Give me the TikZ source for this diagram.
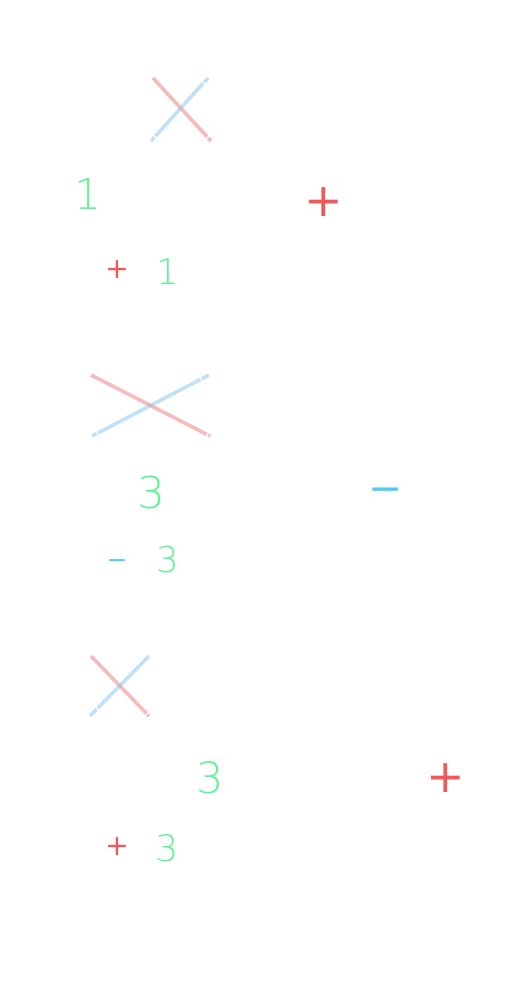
\documentclass[tikz,border=0pt]{standalone}
\usepackage{fontspec}
\newfontfamily\digitfont{DejaVu Sans ExtraLight}
\newfontfamily\signfont{DejaVu Sans}
\definecolor{digitgreen}{RGB}{96,242,150}
\definecolor{plusred}{RGB}{242,88,88}
\definecolor{minusblue}{RGB}{80,204,244}
\definecolor{strokepink}{RGB}{238,120,120}
\definecolor{strokeblue}{RGB}{130,196,238}

\begin{document}
\begin{tikzpicture}[x=1pt,y=-1pt,
  digit/.style={inner sep=0pt,text=digitgreen,font=\digitfont\fontsize{#1}{#1}\selectfont},
  plussign/.style={inner sep=0pt,text=plusred,font=\signfont\fontsize{#1}{#1}\selectfont},
  minussign/.style={inner sep=0pt,anchor=base,text=minusblue,font=\signfont\fontsize{#1}{#1}\selectfont},
  pinkstroke/.style={draw=strokepink,opacity=0.5,line width=3.6pt},
  bluestroke/.style={draw=strokeblue,opacity=0.5,line width=3.6pt}]
\useasboundingbox (0,0) rectangle (532,989);

% stroke ends
\coordinate (p1a) at (153,78);
\coordinate (p1b) at (211,141);
\coordinate (b1a) at (208,78);
\coordinate (b1b) at (151,141);
\coordinate (p2a) at (91,375);
\coordinate (p2b) at (210,436);
\coordinate (b2a) at (209,375);
\coordinate (b2b) at (92,436);
\coordinate (p3a) at (91,656);
\coordinate (p3b) at (149,716);
\coordinate (b3a) at (149,656);
\coordinate (b3b) at (90,716);

% crossed strokes
\draw[pinkstroke,dash pattern=on 80pt off 1.5pt on 10pt] (p1a)--(p1b);
\draw[bluestroke,dash pattern=on 6pt off 1.5pt on 71pt off 1.5pt on 10pt] (b1a)--(b1b);
\draw[pinkstroke,dash pattern=on 130pt off 1.5pt on 10pt] (p2a)--(p2b);
\draw[bluestroke,dash pattern=on 8pt off 1.5pt on 116pt off 1.5pt on 10pt] (b2a)--(b2b);
\draw[pinkstroke,dash pattern=on 80pt off 1.5pt on 10pt] (p3a)--(p3b);
\draw[bluestroke,dash pattern=on 73pt off 1.5pt on 15pt] (b3a)--(b3b);

% first row
\node[digit=42.5pt] (one1) at (88,194.5) {1};
\node[plussign=46pt] (plus1) at (323.5,202.5) {+};
\node[plussign=28.5pt] (plus1s) at (117,269.5) {+};
\node[digit=35.5pt] (one1s) at (167.5,272) {1};

% second row
\node[digit=44pt] (three2) at (151.5,492) {3};
\node[minussign=41pt] (minus2) at (386,502.8) {−};
\node[minussign=25pt] (minus2s) at (117,568.8) {−};
\node[digit=35.5pt] (three2s) at (167.5,560) {3};

% third row
\node[digit=43pt] (three3) at (210,777.5) {3};
\node[plussign=46pt] (plus3) at (445.5,778.5) {+};
\node[plussign=28.5pt] (plus3s) at (117,847) {+};
\node[digit=36.5pt] (three3s) at (167.5,848.5) {3};
\end{tikzpicture}
\end{document}
